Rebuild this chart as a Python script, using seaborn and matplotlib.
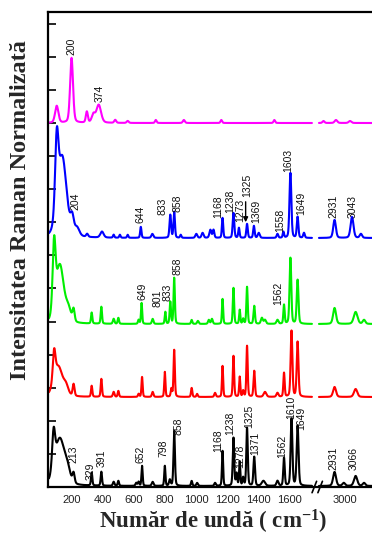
import numpy as np
import pandas as pd
import matplotlib
matplotlib.use("Agg")
import matplotlib.pyplot as plt
import seaborn as sns
from matplotlib.ticker import MultipleLocator

# Raman bands per sample: (position cm^-1, height a.u., FWHM cm^-1)
black_bands = [(85, 37, 22), (125, 47, 75), (175, 10, 40), (213, 10, 16), (329, 13, 10),
               (391, 14, 10), (470, 4, 12), (500, 5, 10), (615, 3, 12), (630, 4, 10),
               (652, 20, 9), (720, 4, 14), (798, 20, 9), (830, 6, 12), (858, 55, 11),
               (970, 5, 10), (1005, 3, 12), (1120, 3, 12), (1168, 35, 9), (1238, 48, 11),
               (1258, 12, 10), (1278, 24, 9), (1300, 8, 10), (1325, 58, 11), (1371, 29, 12),
               (1430, 5, 25), (1520, 5, 15), (1562, 28, 11), (1610, 67, 13), (1649, 60, 14),
               (2931, 14, 22), (2990, 3, 20), (3066, 10, 25), (3120, 3, 20)]
red_bands = [(88, 30, 20), (115, 30, 65), (165, 8, 35), (213, 12, 14), (329, 11, 10),
             (391, 18, 10), (470, 5, 12), (500, 6, 10), (630, 3, 10), (652, 20, 9),
             (720, 5, 12), (798, 25, 9), (840, 8, 10), (858, 47, 10), (970, 9, 10),
             (1005, 3, 10), (1120, 4, 12), (1168, 31, 9), (1238, 41, 10), (1278, 20, 9),
             (1300, 6, 10), (1325, 51, 10), (1371, 26, 11), (1440, 5, 20), (1520, 4, 15),
             (1562, 24, 10), (1610, 66, 13), (1649, 55, 13), (2931, 10, 22), (3066, 8, 25)]
green_bands = [(88, 67, 22), (125, 58, 60), (180, 12, 40), (213, 12, 16), (329, 11, 10),
               (391, 17, 10), (470, 5, 12), (500, 6, 10), (630, 4, 10), (649, 21, 9),
               (720, 5, 12), (801, 12, 9), (833, 22, 10), (858, 46, 10), (970, 4, 10),
               (1010, 3, 12), (1080, 4, 12), (1100, 5, 12), (1168, 25, 9), (1238, 36, 10),
               (1278, 14, 9), (1300, 5, 10), (1325, 37, 10), (1371, 18, 11), (1420, 6, 15),
               (1440, 4, 15), (1520, 4, 15), (1562, 19, 10), (1603, 66, 13), (1649, 44, 13),
               (2931, 16, 22), (3066, 12, 28), (3120, 4, 20)]
blue_bands = [(105, 74, 25), (140, 80, 65), (204, 16, 25), (235, 8, 35), (300, 3, 15),
              (395, 6, 25), (470, 3, 10), (510, 3, 10), (560, 3, 10), (644, 11, 10),
              (718, 4, 15), (833, 23, 12), (858, 26, 11), (900, 3, 10), (1000, 4, 15),
              (1040, 5, 15), (1090, 8, 15), (1110, 8, 12), (1168, 20, 10), (1238, 25, 12),
              (1273, 10, 10), (1325, 14, 11), (1369, 12, 11), (1400, 5, 15), (1520, 4, 12),
              (1558, 6, 10), (1603, 65, 14), (1649, 21, 12), (1690, 5, 12), (2931, 18, 20),
              (3043, 21, 22), (3100, 4, 18)]
magenta_bands = [(105, 17, 25), (200, 65, 22), (298, 11, 15), (340, 8, 25), (374, 18, 35),
                 (480, 3, 15), (560, 2, 15), (740, 3, 12), (920, 3, 15), (1160, 3, 12),
                 (1500, 3, 12), (2860, 2, 15), (2940, 3, 20), (3030, 2, 20)]

# vertical offset of each stacked spectrum
samples = ["black", "red", "green", "blue", "magenta"]
offsets = [1, 90, 163, 249, 364]
colors = ["#000000", "#ff0000", "#00ee00", "#0000ff", "#ff00ff"]
bands = [black_bands, red_bands, green_bands, blue_bands, magenta_bands]

# peak annotations: (text, position, height of label base)
black_labels = [("213", 211, 24), ("329", 320, 7), ("391", 395, 20), ("652", 643, 24),
                ("798", 788, 30), ("858", 888, 52), ("1168", 1143, 35), ("1238", 1220, 52),
                ("1278", 1281, 19), ("1325", 1337, 59), ("1371", 1380, 32), ("1562", 1549, 29),
                ("1610", 1611, 68), ("1649", 1669, 57), ("2931", 2925, 17), ("3066", 3055, 17)]
blue_labels = [("204", 222, 277), ("644", 645, 264), ("833", 786, 272), ("858", 876, 275),
               ("1168", 1143, 269), ("1238", 1217, 274), ("1273", 1279, 265), ("1325", 1324, 290),
               ("1369", 1384, 264), ("1558", 1538, 255), ("1603", 1592, 315), ("1649", 1669, 272),
               ("2931", 2921, 269), ("3043", 3044, 269)]
green_labels = [("649", 656, 187), ("801", 750, 180), ("833", 817, 186), ("858", 876, 212),
                ("1562", 1525, 182)]
magenta_labels = [("200", 198, 432), ("374", 378, 385)]

x_ticks = [200, 400, 600, 800, 1000, 1200, 1400, 1600, 3000]

# measured ranges on both sides of the axis break
low_range = (55, 1741)
high_range = (2831, 3200)
GAP_LO, GAP_HI = 1770, 2815
SHIFT = GAP_HI - GAP_LO


def band_sum(x, band_list, base):
    y = np.full_like(x, float(base))
    for c, h, w in band_list:
        d = 2.0 * (x - c) / w
        y += h * (0.7 * np.exp(-np.log(2) * d ** 2) + 0.3 / (1 + d ** 2))
    return y


frames = []
for name, off, bl in zip(samples, offsets, bands):
    for seg, (lo, hi) in enumerate([low_range, high_range]):
        x = np.arange(lo, hi + 1, 1.0)
        frames.append(pd.DataFrame({"x": x, "y": band_sum(x, bl, off),
                                    "sample": name, "seg": f"{name}{seg}"}))
data = pd.concat(frames, ignore_index=True)


def fwd(x):
    x = np.asarray(x, float)
    return np.where(x <= GAP_LO, x, np.where(x >= GAP_HI, x - SHIFT, GAP_LO))


def inv(u):
    u = np.asarray(u, float)
    return np.where(u <= GAP_LO, u, u + SHIFT)


sns.set_style("ticks")
plt.rcParams["font.family"] = ["Liberation Sans", "DejaVu Sans"]
plt.rcParams["mathtext.fontset"] = "custom"
plt.rcParams["mathtext.rm"] = "Liberation Serif"
plt.rcParams["mathtext.bf"] = "Liberation Serif:bold"

fig = plt.figure(figsize=(3.72, 5.36), dpi=100)
ax = fig.add_axes([48 / 372, 1 - 487 / 536, 324 / 372, 475.5 / 536])
ax.set_xscale("function", functions=(fwd, inv))

sns.lineplot(data=data, x="x", y="y", hue="sample", units="seg", estimator=None,
             hue_order=samples, palette=colors, linewidth=1.5, legend=False, ax=ax,
             sort=False)

ax.set_xlim(49, 3171)
ax.set_ylim(0, 475.5)
ax.set_xticks(x_ticks)
ax.set_xticklabels([str(t) for t in x_ticks], fontsize=8, color="#222222")
ax.yaxis.set_major_locator(MultipleLocator(33.1))
ax.set_yticklabels([])
ax.tick_params(axis="x", length=0, pad=6)
ax.tick_params(axis="y", direction="in", length=6, width=1.2, color="black")
ax.set_xlabel("")
ax.set_ylabel("")
for side in ("left", "top", "bottom"):
    ax.spines[side].set_linewidth(1.6)
    ax.spines[side].set_color("black")
ax.spines["right"].set_visible(False)

for labels in (black_labels, blue_labels, green_labels, magenta_labels):
    for txt, xp, yp in labels:
        ax.text(xp, yp, txt, rotation=90, ha="center", va="bottom", fontsize=7.5,
                color="#111111")

# arrow pointing to the 1325 band of the blue spectrum
ax.annotate("", xy=(1316, 262), xytext=(1316, 288),
            arrowprops=dict(arrowstyle="-|>", color="black", lw=1.0, mutation_scale=7))

# axis-break marks on the bottom spine
for xf in (0.822, 0.840):
    ax.plot([xf - 0.007, xf + 0.007], [-0.012, 0.012], transform=ax.transAxes,
            color="black", lw=1.2, clip_on=False)

fig.text(21 / 372, 1 - 210 / 536, "Intensitatea Raman Normalizată", rotation=90,
         ha="center", va="center", fontsize=17.5, fontweight="bold",
         family="Liberation Serif")
fig.text(213 / 372, 1 - 521.5 / 536, r"Număr de undă ( $\mathbf{cm^{-1}}$)",
         ha="center", va="center", fontsize=16.5, fontweight="bold",
         family="Liberation Serif")

fig.savefig("out.png", dpi=100)
